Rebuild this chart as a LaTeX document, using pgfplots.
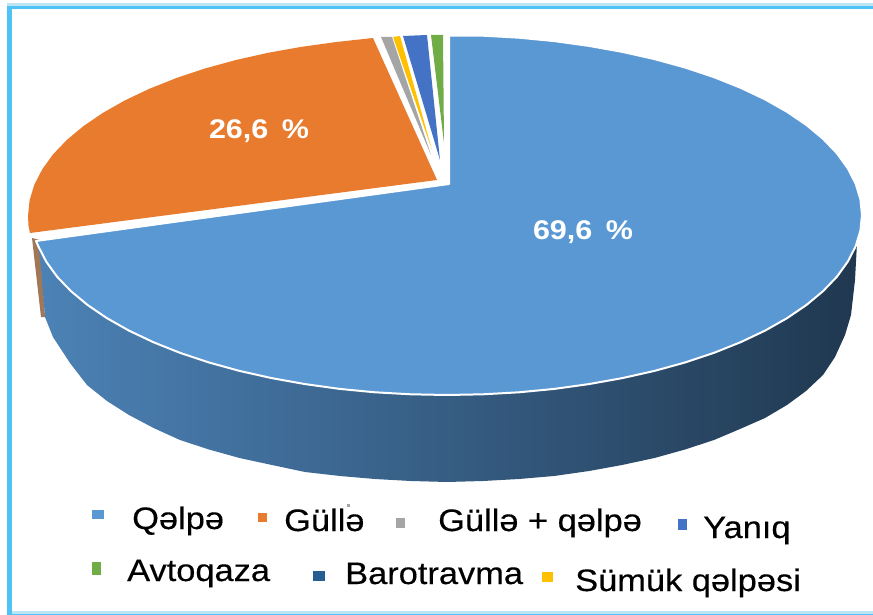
\documentclass[border=0pt]{standalone}
\usepackage{fontspec}
\setmainfont{Liberation Sans}
\newfontfamily\lgdfont[FakeStretch=1.11, FakeBold=0.35]{Liberation Sans}
\newfontfamily\valfont[FakeStretch=1.13]{Liberation Sans Bold}
\usepackage{pgfplots}
\pgfplotsset{compat=1.18}

\definecolor{frameA}{HTML}{BDE6F5}
\definecolor{frameB}{HTML}{4FC3F5}
\definecolor{slBlue}{HTML}{5A98D4}
\definecolor{slOrange}{HTML}{E97B2E}
\definecolor{slGrey}{HTML}{A5A5A5}
\definecolor{slYellow}{HTML}{FFC000}
\definecolor{slRoyal}{HTML}{4472C4}
\definecolor{slGreen}{HTML}{70AD47}
\definecolor{slNavy}{HTML}{255E91}
\definecolor{sideL}{HTML}{4C82B6}
\definecolor{sideM}{HTML}{35597E}
\definecolor{sideR}{HTML}{203850}
\definecolor{sideO}{HTML}{A07858}

\newcommand{\lgd}{\fontsize{31}{34}\lgdfont}
\newcommand{\val}{\fontsize{27}{30}\valfont}

\begin{document}
\begin{tikzpicture}
\begin{axis}[
    scale only axis,
    width=873pt, height=615pt,
    xmin=0, xmax=873, ymin=0, ymax=615,
    y dir=reverse,
    hide axis,
    clip=true,
]
% background
\addplot[fill=white, draw=none] coordinates {(0,0) (873,0) (873,615) (0,615)} --cycle;
% frame
\addplot[fill=frameA, draw=none] coordinates {(7,3) (873,3) (873,6) (7,6)} --cycle;
\addplot[fill=frameB, draw=none] coordinates {(7,6) (873,6) (873,9) (7,9)} --cycle;
\addplot[fill=frameB, draw=none] coordinates {(7,6) (12,6) (12,615) (7,615)} --cycle;
\addplot[fill=frameA, draw=none] coordinates {(12,611) (873,611) (873,614) (12,614)} --cycle;
\addplot[fill=frameB, draw=none] coordinates {(7,614) (873,614) (873,615) (7,615)} --cycle;

% side of the orange slice
\addplot[fill=sideO, draw=none] coordinates {(32,238) (40,240) (45,317) (41,317)} --cycle;
% side of the blue slice
\addplot[left color=sideL, middle color=sideM, right color=sideR, draw=none] coordinates {
  (37,243) (857,243) (855,280) (851,315) (845,335) (835,357) (823,375) (806,391) (787,405)
  (765,418) (740,429) (714,440) (685,449.5) (654.5,458) (622,465) (589,471) (554,476)
  (519,479) (483,481) (447,482) (411,481) (375,479) (340,476) (305,472) (272,465) (239.5,458)
  (209,449.5) (180,440) (153.6,428) (129,415) (107,401) (87,385) (70,363) (53,337) (45,317)
  (40,257)} --cycle;

% orange slice
\addplot[fill=slOrange, draw=none] coordinates {
  (373,38) (335.6,42.1) (301.1,46.9) (267.6,52.9) (235.5,60.1) (205,68.5) (176.2,78.1)
  (149.6,88.7) (125.1,100.3) (103,112.8) (83.6,126) (66.9,139.9) (53,154.4) (42.2,169.4)
  (34.3,184.8) (29.6,200.3) (28,216) (28.5,226) (30,233) (437,180)} --cycle;
% small slices
\addplot[fill=slGrey, draw=none] coordinates {(381,37) (392,37) (431,155)} --cycle;
\addplot[fill=slYellow, draw=none] coordinates {(393,37) (400,36) (432,150)} --cycle;
\addplot[fill=slRoyal, draw=none] coordinates {(403,36) (427,35) (440,160)} --cycle;
\addplot[fill=slGreen, draw=none] coordinates {(431,35) (443,35) (444,143)} --cycle;

% blue slice
\addplot[fill=slBlue, draw=white, line width=2pt, line join=round] coordinates {
  (449,35.5) (483.2,35.7) (519,37.7) (554.4,41.1) (588.9,45.9) (622.4,51.9) (654.5,59.1)
  (685,67.5) (713.8,77.1) (740.4,87.7) (764.9,99.3) (787,111.8) (806.4,125) (823.1,138.9)
  (837,153.4) (847.8,168.4) (855.7,183.8) (860.4,199.3) (862,215) (860.4,230.7) (855.7,246.2)
  (847.8,261.6) (837,276.6) (823.1,291.1) (806.4,305) (787,318.2) (764.9,330.7) (740.4,342.3)
  (713.8,352.9) (685,362.5) (654.5,370.9) (622.4,378.1) (588.9,384.1) (554.4,388.9)
  (519,392.3) (483.2,394.3) (447,395) (410.8,394.3) (375,392.3) (339.6,388.9) (305.1,384.1)
  (271.6,378.1) (239.5,370.9) (209,362.5) (180.2,352.9) (153.6,342.3) (129.1,330.7)
  (107,318.2) (87.6,305) (70.9,291.1) (57,276.6) (46.2,261.6) (38.3,246.2) (36,241)
  (449,184)} --cycle;

% legend keys
\addplot[fill=slBlue, draw=none] coordinates {(92,510) (104,510) (104,519) (92,519)} --cycle;
\addplot[fill=slOrange, draw=none] coordinates {(258,513) (267,513) (267,522) (258,522)} --cycle;
\addplot[fill=slGrey, draw=none] coordinates {(396,518) (405,518) (405,528) (396,528)} --cycle;
\addplot[fill=slRoyal, draw=none] coordinates {(678,519) (687,519) (687,530) (678,530)} --cycle;
\addplot[fill=slGreen, draw=none] coordinates {(92,562) (101,562) (101,575) (92,575)} --cycle;
\addplot[fill=slNavy, draw=none] coordinates {(313,571) (325,571) (325,581) (313,581)} --cycle;
\addplot[fill=slYellow, draw=none] coordinates {(542,572) (553,572) (553,582) (542,582)} --cycle;
\addplot[fill=slGrey, draw=none] coordinates {(347,504) (350,504) (350,507) (347,507)} --cycle;

% labels
\node[white, inner sep=0pt] at (axis cs:259,131) {\val 26,6\hspace{5pt} \%};
\node[white, inner sep=0pt] at (axis cs:583,232) {\val 69,6\hspace{5pt} \%};

\node[anchor=base west, inner sep=0pt] at (axis cs:132,529) {\lgd Qəlpə};
\node[anchor=base west, inner sep=0pt] at (axis cs:284,531) {\lgd Güllə};
\node[anchor=base west, inner sep=0pt] at (axis cs:438,531) {\lgd Güllə + qəlpə};
\node[anchor=base west, inner sep=0pt] at (axis cs:703,538) {\lgd Yanıq};
\node[anchor=base west, inner sep=0pt] at (axis cs:127,581) {\lgd Avtoqaza};
\node[anchor=base west, inner sep=0pt] at (axis cs:345,584) {\lgd Barotravma};
\node[anchor=base west, inner sep=0pt] at (axis cs:575,591) {\lgd Sümük qəlpəsi};
\end{axis}
\end{tikzpicture}
\end{document}
